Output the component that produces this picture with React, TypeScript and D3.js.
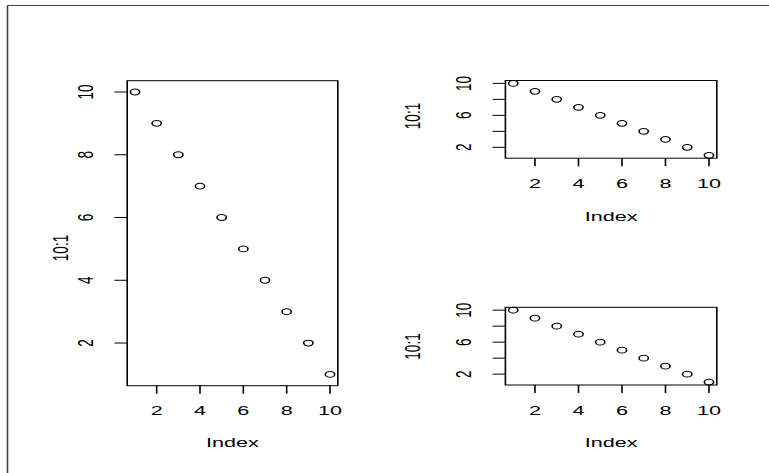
import React from "react";
import * as d3 from "d3";

const index = [1, 2, 3, 4, 5, 6, 7, 8, 9, 10];
const values = [10, 9, 8, 7, 6, 5, 4, 3, 2, 1];
const xTicks = [2, 4, 6, 8, 10];
const yTicks = [2, 4, 6, 8, 10];
const yLabelsFull = [2, 4, 6, 8, 10];
const yLabelsSparse = [2, 6, 10];
const xTitle = "Index";
const yTitle = "10:1";

const SX = 1.6;
const W = 769;
const H = 473;
const FONT = "'Liberation Sans', Arial, Helvetica, sans-serif";

type Panel = {
  x0: number; x1: number; y0: number; y1: number;
  yLabels: number[];
  xLabBase: number; xTitleBase: number;
  yLabBase: number; yTitleBase: number; yTitleY: number;
};

const panels: Panel[] = [
  { x0: 127.2, x1: 337.8, y0: 80.7, y1: 385.7, yLabels: yLabelsFull, xLabBase: 415, xTitleBase: 447, yLabBase: 93.3, yTitleBase: 68, yTitleY: 248 },
  { x0: 505.4, x1: 716.8, y0: 80.5, y1: 158.2, yLabels: yLabelsSparse, xLabBase: 188, xTitleBase: 221, yLabBase: 470.7, yTitleBase: 420, yTitleY: 116 },
  { x0: 505.4, x1: 716.8, y0: 307.3, y1: 385, yLabels: yLabelsSparse, xLabBase: 415, xTitleBase: 447, yLabBase: 470.7, yTitleBase: 420, yTitleY: 346.5 },
];

function PanelView({ p }: { p: Panel }) {
  const l = p.x0 / SX, r = p.x1 / SX;
  const ext = (d3.max(index)! - d3.min(index)!) * 0.04;
  const x = d3.scaleLinear().domain([d3.min(index)! - ext, d3.max(index)! + ext]).range([l, r]);
  const yext = (d3.max(values)! - d3.min(values)!) * 0.04;
  const y = d3.scaleLinear().domain([d3.min(values)! - yext, d3.max(values)! + yext]).range([p.y1, p.y0]);
  const tl = 8;
  const yl = p.yLabBase / SX;
  const yt = p.yTitleBase / SX;
  return (
    <g>
      <rect x={l} y={p.y0} width={r - l} height={p.y1 - p.y0} fill="none" stroke="#000" strokeWidth={1} />
      {xTicks.map((t) => (
        <g key={"xt" + t}>
          <line x1={x(t)} x2={x(t)} y1={p.y1} y2={p.y1 + tl} stroke="#000" strokeWidth={1} />
          <text x={x(t)} y={p.xLabBase} textAnchor="middle" fontSize={13.5} fontFamily={FONT} fill="#000">{t}</text>
        </g>
      ))}
      {yTicks.map((t) => (
        <line key={"yt" + t} x1={l - tl} x2={l} y1={y(t)} y2={y(t)} stroke="#000" strokeWidth={1} />
      ))}
      {p.yLabels.map((t) => (
        <text key={"yl" + t} transform={`translate(${yl},${y(t)}) rotate(-90)`} textAnchor="middle" fontSize={13.5} fontFamily={FONT} fill="#000">{t}</text>
      ))}
      <text x={(l + r) / 2} y={p.xTitleBase} textAnchor="middle" fontSize={13.5} fontFamily={FONT} fill="#000">{xTitle}</text>
      <text transform={`translate(${yt},${p.yTitleY}) rotate(-90)`} textAnchor="middle" fontSize={13.5} fontFamily={FONT} fill="#000">{yTitle}</text>
      {index.map((d, i) => (
        <circle key={"p" + i} cx={x(d)} cy={y(values[i])} r={2.9} fill="none" stroke="#000" strokeWidth={1} />
      ))}
    </g>
  );
}

export default function App() {
  return (
    <svg
      width={W}
      height={H}
      viewBox={`0 0 ${W / SX} ${H}`}
      preserveAspectRatio="none"
      style={{ position: "absolute", left: 0, top: 0, display: "block", background: "#fff" }}
    >
      <rect x={0} y={0} width={W / SX} height={H} fill="#fff" />
      <line x1={7.5 / SX} x2={W / SX} y1={5.5} y2={5.5} stroke="#444" strokeWidth={1} />
      <line x1={7.5 / SX} x2={7.5 / SX} y1={5.5} y2={H} stroke="#444" strokeWidth={1} />
      {panels.map((p, i) => (
        <PanelView key={i} p={p} />
      ))}
    </svg>
  );
}
